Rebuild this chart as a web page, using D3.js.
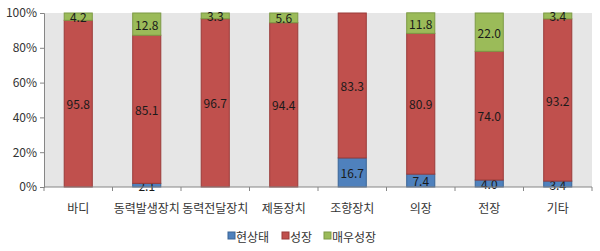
<!DOCTYPE html>
<html>
<head>
<meta charset="utf-8">
<script src="https://cdn.jsdelivr.net/npm/d3@7"></script>
<style>
  body { margin: 0; background: #fff; }
  text { font-family: "Noto Sans CJK KR", "Noto Sans", sans-serif; }
</style>
</head>
<body>
<div id="chart"></div>
<script>
// Categories and series (percent)
var categories = ["바디", "동력발생장치", "동력전달장치", "제동장치", "조향장치", "의장", "전장", "기타"];
var seriesNames = ["현상태", "성장", "매우성장"];
var current = [0, 2.1, 0, 0, 16.7, 7.4, 4.0, 3.4];
var growth = [95.8, 85.1, 96.7, 94.4, 83.3, 80.9, 74.0, 93.2];
var highGrowth = [4.2, 12.8, 3.3, 5.6, 0, 11.8, 22.0, 3.4];
var yTicks = [0, 20, 40, 60, 80, 100];

var colors = ["#4f81bd", "#c0504d", "#9bbb59"];
var strokes = ["#3a6496", "#9a3b39", "#7d9a45"];

var margin = {top: 13, right: 8, bottom: 64, left: 44},
    width = 600 - margin.left - margin.right,
    height = 251 - margin.top - margin.bottom;

var svg = d3.select("#chart")
    .append("svg")
    .attr("width", 600)
    .attr("height", 251)
    .append("g")
    .attr("transform", "translate(" + margin.left + "," + margin.top + ")");

// Rows for stacking
var rows = categories.map((c, i) => ({
    name: c,
    "현상태": current[i],
    "성장": growth[i],
    "매우성장": highGrowth[i]
}));
var stacked = d3.stack().keys(seriesNames)(rows);

var x = d3.scaleBand()
    .domain(categories)
    .range([0, width])
    .paddingInner(0.59)
    .paddingOuter(0.295);

var xOuter = d3.scaleBand()
    .domain(categories)
    .range([0, width]);

var y = d3.scaleLinear()
    .domain([0, 100])
    .range([height, 0]);

// Plot background
svg.append("rect")
    .attr("x", 0)
    .attr("y", 0)
    .attr("width", width)
    .attr("height", height)
    .attr("fill", "#e6e6e6");

// Bars
var layers = svg.selectAll(".layer")
    .data(stacked)
    .enter()
    .append("g")
    .attr("fill", (d, i) => colors[i])
    .attr("stroke", (d, i) => strokes[i])
    .attr("stroke-width", 1);

layers.selectAll("rect")
    .data(d => d.filter(p => p[1] - p[0] > 0))
    .enter()
    .append("rect")
    .attr("x", d => x(d.data.name))
    .attr("y", d => y(d[1]))
    .attr("width", x.bandwidth())
    .attr("height", d => y(d[0]) - y(d[1]));

// Value labels
layers.selectAll("text")
    .data(d => d.filter(p => p[1] - p[0] > 0))
    .enter()
    .append("text")
    .attr("x", d => x(d.data.name) + x.bandwidth() / 2)
    .attr("y", d => (y(d[0]) + y(d[1])) / 2)
    .attr("text-anchor", "middle")
    .attr("dominant-baseline", "central")
    .attr("stroke", "none")
    .attr("fill", "#1a1a1a")
    .style("font-size", "12px")
    .text(d => (d[1] - d[0]).toFixed(1));

// Y axis
var yAxis = svg.append("g")
    .call(d3.axisLeft(y).tickValues(yTicks).tickSize(4).tickPadding(3).tickFormat(d => d + "%"));
yAxis.select(".domain").attr("stroke", "#868686");
yAxis.selectAll(".tick line").attr("stroke", "#868686");
yAxis.selectAll("text").style("font-size", "12px").attr("fill", "#333");

// X axis with ticks at category boundaries
var xAxis = svg.append("g")
    .attr("transform", "translate(0," + height + ")");
xAxis.append("line")
    .attr("x1", 0)
    .attr("x2", width)
    .attr("stroke", "#868686");
xAxis.selectAll(".xtick")
    .data(categories.concat([null]))
    .enter()
    .append("line")
    .attr("x1", (d, i) => i < categories.length ? xOuter(d) : width)
    .attr("x2", (d, i) => i < categories.length ? xOuter(d) : width)
    .attr("y1", 0)
    .attr("y2", 4)
    .attr("stroke", "#868686");
xAxis.selectAll(".xlabel")
    .data(categories)
    .enter()
    .append("text")
    .attr("x", d => xOuter(d) + xOuter.bandwidth() / 2)
    .attr("y", 26)
    .attr("text-anchor", "middle")
    .style("font-size", "12px")
    .attr("fill", "#333")
    .text(d => d);

// Legend
var legendX = [228, 282, 324];
var legend = svg.append("g")
    .attr("transform", "translate(" + (-margin.left) + "," + (236 - margin.top) + ")");
var items = legend.selectAll(".item")
    .data(seriesNames)
    .enter()
    .append("g")
    .attr("transform", (d, i) => "translate(" + legendX[i] + ",0)");
items.append("rect")
    .attr("x", 0)
    .attr("y", -4)
    .attr("width", 7)
    .attr("height", 7)
    .attr("fill", (d, i) => colors[i])
    .attr("stroke", (d, i) => strokes[i]);
items.append("text")
    .attr("x", 8)
    .attr("y", 0)
    .attr("dominant-baseline", "central")
    .style("font-size", "12px")
    .attr("fill", "#333")
    .text(d => d);
</script>
</body>
</html>
